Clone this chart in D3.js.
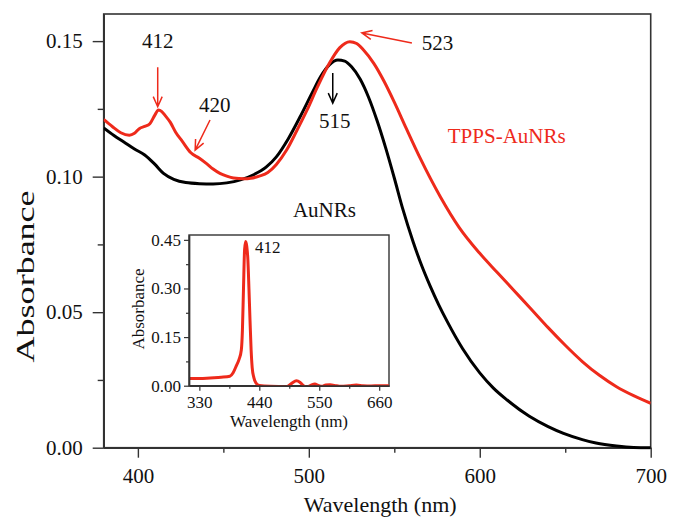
<!DOCTYPE html>
<html>
<head>
<meta charset="utf-8">
<script src="https://cdn.jsdelivr.net/npm/d3@7"></script>
<style>
  html, body { margin: 0; padding: 0; background: #fff; }
  svg { display: block; }
  text { font-family: "Liberation Serif", "DejaVu Serif", serif; }
</style>
</head>
<body>
<svg id="chart" width="679" height="530"></svg>
<script>
// ---- Data ----
const auNRs = [
  [380,0.1180],[386,0.1152],[392,0.1127],[398,0.1102],[404,0.1080],[410,0.1045],[415,0.1012],
  [421,0.0990],[428,0.0978],[436,0.0974],[444,0.0973],[452,0.0977],[460,0.0988],[468,0.1008],
  [475,0.1035],[481,0.1073],[488,0.1140],[495,0.1222],[502,0.1310],[507,0.1370],[512,0.1412],
  [517,0.1430],[521,0.1426],[525,0.1405],[530,0.1360],[535,0.1292],[540,0.1205],[545,0.1105],
  [550,0.0995],[555,0.0880],[561,0.0760],[566,0.0672],[571,0.0596],[576,0.0527],[581,0.0465],
  [590,0.0365],[600,0.0276],[608,0.0220],[616,0.0176],[629,0.0116],[640,0.0078],[649,0.0053],
  [660,0.0030],[668,0.0017],[680,0.0006],[690,0.0001],[700,0.0000]
];
const tppsAuNRs = [
  [380,0.1211],[385,0.1185],[390,0.1162],[395,0.1153],[398,0.1160],[401,0.1178],[404,0.1185],
  [407,0.1195],[410,0.1228],[412,0.1246],[414,0.1240],[416,0.1225],[419,0.1200],[422,0.1165],
  [426,0.1130],[431,0.1088],[436,0.1068],[440,0.1049],[444,0.1028],[448,0.1012],[452,0.1002],
  [456,0.0995],[462,0.0992],[466,0.0994],[471,0.1002],[476,0.1015],[481,0.1045],[487,0.1098],
  [493,0.1170],[499,0.1246],[505,0.1330],[512,0.1418],[518,0.1475],[524,0.1498],[528,0.1491],
  [532,0.1467],[538,0.1418],[544,0.1352],[550,0.1275],[557,0.1178],[565,0.1070],[577,0.0925],
  [588,0.0812],[600,0.0717],[610,0.0648],[620,0.0580],[630,0.0512],[640,0.0443],[650,0.0378],
  [660,0.0318],[670,0.0267],[680,0.0225],[690,0.0192],[700,0.0164]
];
const tppsInset = [
  [311,0.022],[331,0.022],[350,0.024],[370,0.026],[386,0.029],[392,0.040],[398,0.062],
  [403,0.082],[407,0.110],[409,0.170],[411,0.300],[413,0.420],[415,0.445],[417,0.430],
  [419,0.390],[421,0.300],[423,0.200],[425,0.110],[427,0.055],[430,0.025],[434,0.008],
  [440,0.001],[460,-0.002],[490,-0.003],[500,0.008],[508,0.015],[515,0.010],[521,0.000],
  [527,-0.004],[535,0.002],[542,0.005],[548,0.001],[555,-0.002],[562,0.002],[570,0.003],
  [578,0.001],[590,-0.002],[605,0.000],[618,0.002],[630,0.000],[645,-0.001],[660,0.000],[678,0.000]
];
const mainXTicks = [400, 500, 600, 700];
const mainXMinor = [450, 550, 650];
const mainYTicks = [0.00, 0.05, 0.10, 0.15];
const mainYMinor = [0.025, 0.075, 0.125];
const insetXTicks = [330, 440, 550, 660];
const insetXMinor = [385, 495, 605];
const insetYTicks = [0.00, 0.15, 0.30, 0.45];
const insetYMinor = [0.075, 0.225, 0.375];
const labels = {
  xTitle: "Wavelength (nm)", yTitle: "Absorbance",
  tpps: "TPPS-AuNRs", au: "AuNRs",
  p412: "412", p420: "420", p515: "515", p523: "523"
};

// ---- Layout ----
const svg = d3.select("#chart");
const RED = "#ee2a1b", BLACK = "#000", AXIS = "#333";

const x = d3.scaleLinear().domain([380, 700]).range([103.7, 650.7]);
const y = d3.scaleLinear().domain([0, 0.16]).range([447.7, 14]);

const line = d3.line().x(d => x(d[0])).y(d => y(d[1])).curve(d3.curveMonotoneX);

svg.append("clipPath").attr("id", "mainclip").append("rect")
  .attr("x", x.range()[0]).attr("y", y.range()[1])
  .attr("width", x.range()[1] - x.range()[0]).attr("height", y.range()[0] - y.range()[1] + 2);

svg.append("rect")
  .attr("x", x.range()[0]).attr("y", y.range()[1])
  .attr("width", x.range()[1] - x.range()[0]).attr("height", y.range()[0] - y.range()[1])
  .attr("fill", "none").attr("stroke", AXIS).attr("stroke-width", 1.6);

function styleAxis(g, fs) {
  g.select(".domain").attr("stroke", AXIS).attr("stroke-width", 1.6);
  g.selectAll(".tick line").attr("stroke", AXIS).attr("stroke-width", 1.4);
  g.selectAll(".tick text").attr("fill", "#111")
    .style("font-family", '"Liberation Serif", serif').style("font-size", fs + "px");
}
const gx = svg.append("g").attr("transform", `translate(0,${y(0)})`)
  .call(d3.axisBottom(x).tickValues(mainXTicks).tickFormat(d3.format("d"))
    .tickSize(10).tickPadding(10).tickSizeOuter(0));
styleAxis(gx, 21);
const gxm = svg.append("g").attr("transform", `translate(0,${y(0)})`)
  .call(d3.axisBottom(x).tickValues(mainXMinor).tickFormat("").tickSize(5).tickSizeOuter(0));
styleAxis(gxm, 21);

const gy = svg.append("g").attr("transform", `translate(${x(380)},0)`)
  .call(d3.axisLeft(y).tickValues(mainYTicks).tickFormat(d3.format(".2f"))
    .tickSize(11).tickPadding(10).tickSizeOuter(0));
styleAxis(gy, 21);
const gym = svg.append("g").attr("transform", `translate(${x(380)},0)`)
  .call(d3.axisLeft(y).tickValues(mainYMinor).tickFormat("").tickSize(6).tickSizeOuter(0));
styleAxis(gym, 21);

svg.append("text").attr("x", (x.range()[0] + x.range()[1]) / 2 + 3).attr("y", 512)
  .attr("text-anchor", "middle").attr("font-size", 22).attr("fill", "#111").text(labels.xTitle);
svg.append("text").attr("transform", `translate(34,${(y(0.10)+y(0.05))/2 + 32}) rotate(-90)`)
  .attr("text-anchor", "middle").attr("font-size", 25).attr("fill", "#111")
  .attr("textLength", 172).attr("lengthAdjust", "spacingAndGlyphs").text(labels.yTitle);

const plot = svg.append("g").attr("clip-path", "url(#mainclip)");
plot.append("path").datum(auNRs).attr("d", line)
  .attr("fill", "none").attr("stroke", BLACK).attr("stroke-width", 3).attr("stroke-linejoin", "round");
plot.append("path").datum(tppsAuNRs).attr("d", line)
  .attr("fill", "none").attr("stroke", RED).attr("stroke-width", 3).attr("stroke-linejoin", "round");

function arrow(x1, y1, x2, y2, color) {
  const ang = Math.atan2(y2 - y1, x2 - x1), L = 11, a = 0.42;
  const p1 = [x2 - L * Math.cos(ang - a), y2 - L * Math.sin(ang - a)];
  const p2 = [x2 - L * Math.cos(ang + a), y2 - L * Math.sin(ang + a)];
  svg.append("path")
    .attr("d", `M${x1},${y1}L${x2},${y2}M${p1[0]},${p1[1]}L${x2},${y2}L${p2[0]},${p2[1]}`)
    .attr("fill", "none").attr("stroke", color).attr("stroke-width", 1.5);
}
function note(txt, wl, v, anchor, color, fs) {
  svg.append("text").attr("x", x(wl)).attr("y", y(v)).attr("text-anchor", anchor)
    .attr("font-size", fs).attr("fill", color).text(txt);
}
note(labels.p412, 411.6, 0.1474, "middle", "#111", 21);
arrow(x(411.6), y(0.1404), x(411.6), y(0.1258), RED);
note(labels.p420, 445, 0.1238, "middle", "#111", 21);
arrow(x(442.2), y(0.1209), x(433.5), y(0.1098), RED);
arrow(x(514), y(0.1382), x(514), y(0.1271), BLACK);
note(labels.p515, 515.2, 0.1179, "middle", "#111", 21);
note(labels.p523, 566, 0.1467, "start", "#111", 21);
arrow(x(560.3), y(0.1493), x(531), y(0.1530), RED);
note(labels.tpps, 581.3, 0.1124, "start", RED, 21);
note(labels.au, 490.7, 0.0851, "start", "#111", 21);

// ---- Inset ----
const ix = d3.scaleLinear().domain([311, 678]).range([189, 389]);
const iy = d3.scaleLinear().domain([0, 0.465]).range([385.7, 235]);
const ins = svg.append("g");
ins.append("rect").attr("x", 189).attr("y", 235).attr("width", 200).attr("height", 150.7)
  .attr("fill", "#fff").attr("stroke", AXIS).attr("stroke-width", 1.4);
ins.append("clipPath").attr("id", "insclip").append("rect")
  .attr("x", 189).attr("y", 233).attr("width", 200).attr("height", 154);
const iline = d3.line().x(d => ix(d[0])).y(d => iy(d[1])).curve(d3.curveMonotoneX);
ins.append("g").attr("clip-path", "url(#insclip)").append("path").datum(tppsInset).attr("d", iline)
  .attr("fill", "none").attr("stroke", RED).attr("stroke-width", 3).attr("stroke-linejoin", "round");

function styleInset(g) {
  g.select(".domain").attr("stroke", AXIS).attr("stroke-width", 1.4);
  g.selectAll(".tick line").attr("stroke", AXIS).attr("stroke-width", 1.2);
  g.selectAll(".tick text").attr("fill", "#111")
    .style("font-family", '"Liberation Serif", serif').style("font-size", "17px");
}
const igx = ins.append("g").attr("transform", `translate(0,${iy(0)})`)
  .call(d3.axisBottom(ix).tickValues(insetXTicks).tickFormat(d3.format("d"))
    .tickSize(5).tickPadding(5).tickSizeOuter(0));
styleInset(igx);
const igxm = ins.append("g").attr("transform", `translate(0,${iy(0)})`)
  .call(d3.axisBottom(ix).tickValues(insetXMinor).tickFormat("").tickSize(3).tickSizeOuter(0));
styleInset(igxm);
const igy = ins.append("g").attr("transform", `translate(189,0)`)
  .call(d3.axisLeft(iy).tickValues(insetYTicks).tickFormat(d3.format(".2f"))
    .tickSize(5).tickPadding(3).tickSizeOuter(0));
styleInset(igy);
const igym = ins.append("g").attr("transform", `translate(189,0)`)
  .call(d3.axisLeft(iy).tickValues(insetYMinor).tickFormat("").tickSize(3).tickSizeOuter(0));
styleInset(igym);
ins.append("text").attr("x", 289).attr("y", 427).attr("text-anchor", "middle")
  .attr("font-size", 17).attr("fill", "#111").text(labels.xTitle);
ins.append("text").attr("transform", `translate(144,${309}) rotate(-90)`)
  .attr("text-anchor", "middle").attr("font-size", 17).attr("fill", "#111").text(labels.yTitle);
ins.append("text").attr("x", ix(432)).attr("y", iy(0.41)).attr("text-anchor", "start")
  .attr("font-size", 17).attr("fill", "#111").text(labels.p412);
</script>
</body>
</html>
